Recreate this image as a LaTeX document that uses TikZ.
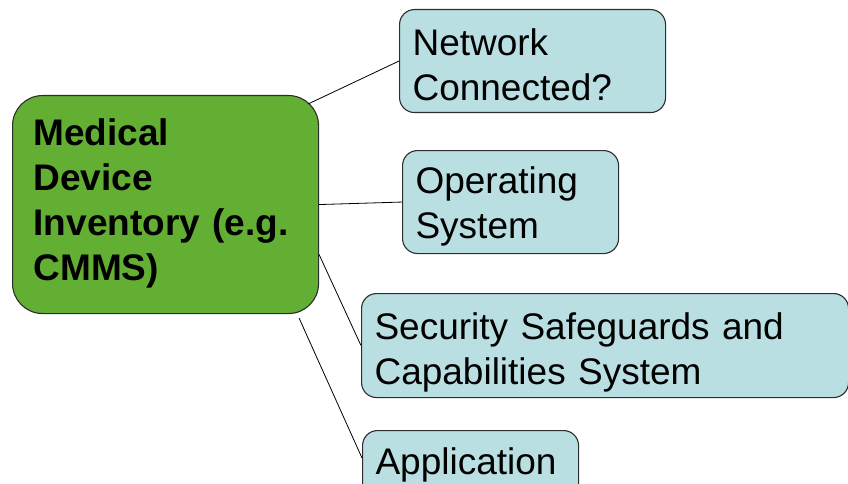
\documentclass[tikz,border=0pt]{standalone}
\usepackage{fontspec}
\setmainfont{Liberation Sans}
\usetikzlibrary{positioning}

\definecolor{hubgreen}{RGB}{99,175,51}
\definecolor{leafblue}{RGB}{186,223,226}
\definecolor{edgegray}{RGB}{45,45,45}

\tikzset{
  box/.style={draw=edgegray, line width=1.1pt, anchor=north west, align=left,
    inner ysep=0pt, font=\fontsize{37}{45}\selectfont},
  hub/.style={box, fill=hubgreen, rounded corners=30pt, inner xsep=21pt,
    font=\fontsize{37}{45}\selectfont\bfseries},
  leaf/.style={box, fill=leafblue, rounded corners=15pt, inner xsep=13pt},
  link/.style={draw=black, line width=0.8pt}
}

\begin{document}
\begin{tikzpicture}[x=1pt,y=-1pt]
\useasboundingbox (0,0) rectangle (848,484);
% inventory and its four attributes
\node[hub, text width=264pt, text height=50pt, text depth=168pt] (inv) at (12,95)
  {Medical\\Device\\Inventory (e.g.\\CMMS)};
\node[leaf, text width=240pt, text height=46pt, text depth=57pt] (net) at (399,9)
  {Network\\Connected?};
\node[leaf, text width=190pt, text height=43pt, text depth=60pt] (ops) at (402,150)
  {Operating\\System};
\node[leaf, text width=461pt, text height=46pt, text depth=58pt] (sec) at (361,293)
  {Security Safeguards and\\Capabilities System};
\node[leaf, text width=190pt, text height=44pt, text depth=59pt] (app) at (362,430)
  {Application};
% connectors
\draw[link] ([xshift=-11pt,yshift=-9pt]inv.north east) -- (net.west);
\draw[link] (inv.east) -- (ops.west);
\draw[link] ([yshift=-50pt]inv.east) -- (sec.west);
\draw[link] ([xshift=-20pt,yshift=-4pt]inv.south east) -- ([yshift=-28pt]app.north west);
\end{tikzpicture}
\end{document}
